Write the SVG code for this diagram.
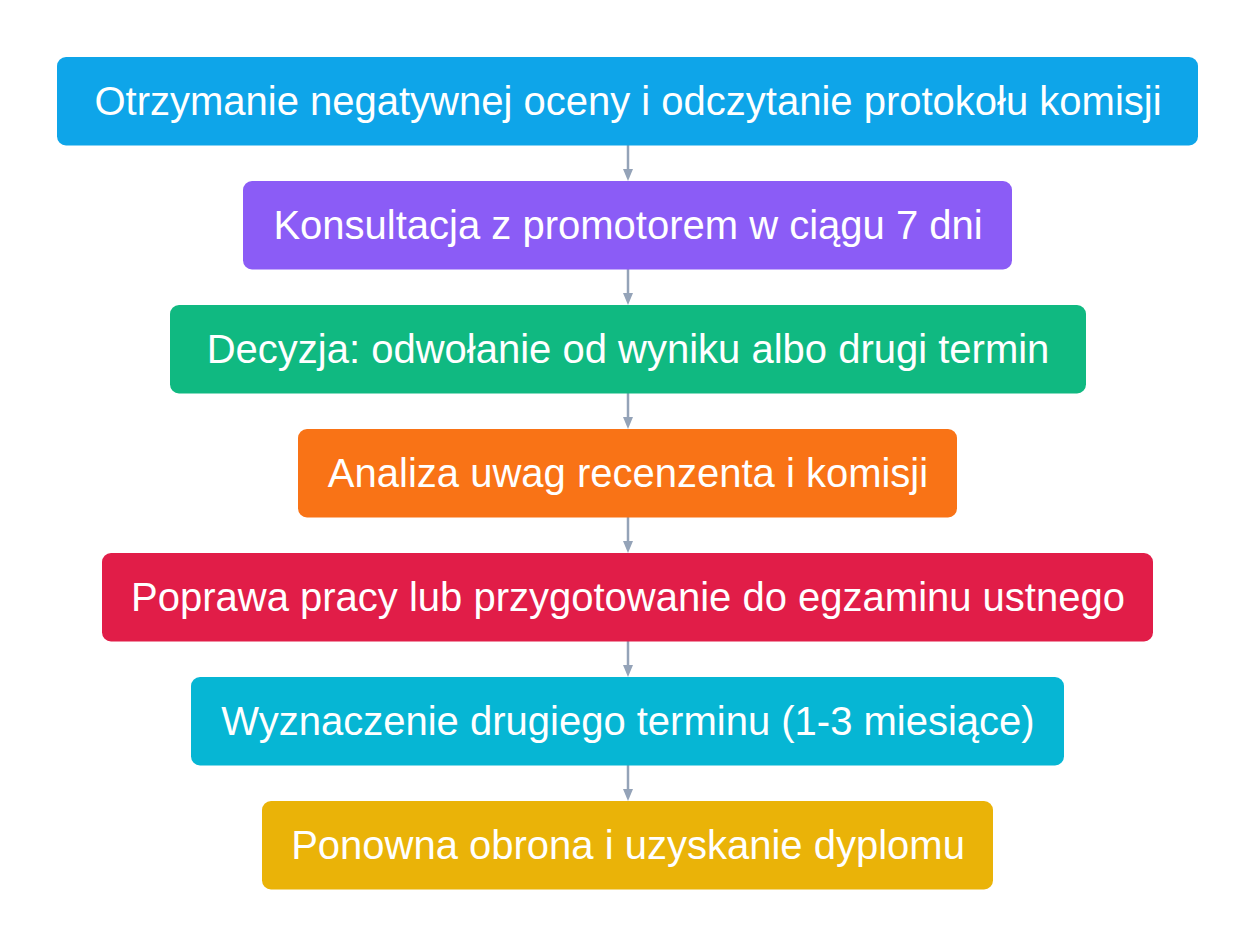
<svg xmlns="http://www.w3.org/2000/svg" width="1256" height="947" viewBox="0 0 1256 947">
<defs>
<style>
.box{stroke:none}
.lbl{font-family:"Liberation Sans",Arial,sans-serif;font-size:40px;fill:#ffffff;text-anchor:middle}
.conn{stroke:#94A3B8;stroke-width:2.5;fill:none}
.head{fill:#94A3B8}
</style>
</defs>
<rect width="1256" height="947" fill="#ffffff"/>
<g id="connectors">
<line class="conn" x1="628" y1="145" x2="628" y2="172"/><path class="head" d="M623,169 L633,169 L628,181 Z"/>
<line class="conn" x1="628" y1="269" x2="628" y2="296"/><path class="head" d="M623,293 L633,293 L628,305 Z"/>
<line class="conn" x1="628" y1="393" x2="628" y2="420"/><path class="head" d="M623,417 L633,417 L628,429 Z"/>
<line class="conn" x1="628" y1="517" x2="628" y2="544"/><path class="head" d="M623,541 L633,541 L628,553 Z"/>
<line class="conn" x1="628" y1="641" x2="628" y2="668"/><path class="head" d="M623,665 L633,665 L628,677 Z"/>
<line class="conn" x1="628" y1="765" x2="628" y2="792"/><path class="head" d="M623,789 L633,789 L628,801 Z"/>
</g>
<g id="n1"><rect class="box" x="57" y="57" width="1141" height="88.5" rx="9" fill="#0EA5E9"/><text class="lbl" x="628" y="115">Otrzymanie negatywnej oceny i odczytanie protokołu komisji</text></g>
<g id="n2"><rect class="box" x="243" y="181" width="769" height="88.5" rx="9" fill="#8B5CF6"/><text class="lbl" x="628" y="239">Konsultacja z promotorem w ciągu 7 dni</text></g>
<g id="n3"><rect class="box" x="170" y="305" width="916" height="88.5" rx="9" fill="#10B981"/><text class="lbl" x="628" y="363">Decyzja: odwołanie od wyniku albo drugi termin</text></g>
<g id="n4"><rect class="box" x="298" y="429" width="659" height="88.5" rx="9" fill="#F97316"/><text class="lbl" x="628" y="487">Analiza uwag recenzenta i komisji</text></g>
<g id="n5"><rect class="box" x="102" y="553" width="1051" height="88.5" rx="9" fill="#E11D48"/><text class="lbl" x="628" y="611">Poprawa pracy lub przygotowanie do egzaminu ustnego</text></g>
<g id="n6"><rect class="box" x="191" y="677" width="873" height="88.5" rx="9" fill="#06B6D4"/><text class="lbl" x="628" y="735">Wyznaczenie drugiego terminu (1-3 miesiące)</text></g>
<g id="n7"><rect class="box" x="262" y="801" width="731" height="88.5" rx="9" fill="#EAB308"/><text class="lbl" x="628" y="859">Ponowna obrona i uzyskanie dyplomu</text></g>
</svg>
